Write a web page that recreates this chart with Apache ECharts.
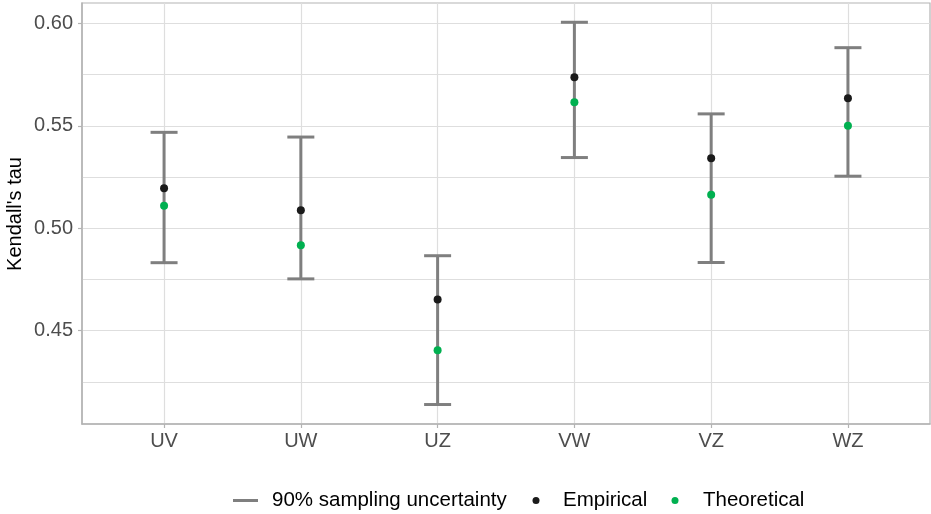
<!DOCTYPE html>
<html>
<head>
<meta charset="utf-8">
<script src="https://cdn.jsdelivr.net/npm/echarts@6/dist/echarts.min.js"></script>
<style>
  html, body { margin: 0; padding: 0; background: #fff; }
  #chart { width: 931px; height: 514px; }
</style>
</head>
<body>
<div id="chart"></div>
<script>
// Pairwise dependence: Kendall's tau per variable pair
const pairs = ['UV', 'UW', 'UZ', 'VW', 'VZ', 'WZ'];
const empirical = [0.5195, 0.5088, 0.4652, 0.5737, 0.5342, 0.5634];
const theoretical = [0.5110, 0.4917, 0.4405, 0.5615, 0.5164, 0.5500];
const lower90 = [0.4832, 0.4753, 0.4140, 0.5345, 0.4833, 0.5254];
const upper90 = [0.5468, 0.5445, 0.4866, 0.6005, 0.5558, 0.5881];
const yTicks = [0.45, 0.50, 0.55, 0.60];
const yMinorTicks = [0.425, 0.475, 0.525, 0.575];
const yTitle = "Kendall's tau";

const FONT = 'Liberation Sans, Arial, sans-serif';
const GRID_COLOR = '#DEDEDE';
const FRAME_COLOR = '#B3B3B3';
const BAR_COLOR = '#7F7F7F';
const EMP_COLOR = '#1A1A1A';
const THEO_COLOR = '#00B050';

const xIdx = pairs.map((_, i) => i);
const yMin = 0.4045, yMax = 0.6099;

const chart = echarts.init(document.getElementById('chart'), null, { renderer: 'canvas' });

// vertical interval with horizontal caps at both ends
function errorBar(params, api) {
  const x = api.value(0);
  const lo = api.coord([x, api.value(1)]);
  const hi = api.coord([x, api.value(2)]);
  const half = 13.5;
  const style = { stroke: BAR_COLOR, lineWidth: 3 };
  return {
    type: 'group',
    children: [
      { type: 'line', shape: { x1: lo[0], y1: lo[1], x2: hi[0], y2: hi[1] }, style },
      { type: 'line', shape: { x1: hi[0] - half, y1: hi[1], x2: hi[0] + half, y2: hi[1] }, style },
      { type: 'line', shape: { x1: lo[0] - half, y1: lo[1], x2: lo[0] + half, y2: lo[1] }, style }
    ]
  };
}

const legendText = { fontFamily: FONT, fontSize: 20.5, lineHeight: 20, color: '#000' };
const legendCommon = { top: 490, itemWidth: 25, selectedMode: false, padding: 0 };

chart.setOption({
  animation: false,
  backgroundColor: '#fff',
  textStyle: { fontFamily: FONT },
  grid: {
    left: 82, right: 1, top: 3, bottom: 90,
    outerBoundsMode: 'none', containLabel: false,
    show: true, borderColor: FRAME_COLOR, borderWidth: 1.2, backgroundColor: 'transparent'
  },
  // y-axis title, centred on the plot panel
  graphic: [{
    type: 'text', x: 15.5, y: 214, rotation: Math.PI / 2, silent: true,
    style: { text: yTitle, fontSize: 20, fontFamily: FONT, fill: '#000', align: 'center', verticalAlign: 'middle' }
  }],
  xAxis: {
    type: 'value', min: -0.6, max: 5.6,
    axisLine: { show: true, onZero: false, lineStyle: { color: FRAME_COLOR, width: 1.5 } },
    axisTick: { show: true, length: 4, customValues: xIdx, lineStyle: { color: FRAME_COLOR, width: 1.2 } },
    axisLabel: {
      customValues: xIdx, margin: 7, fontSize: 20, color: '#4D4D4D', fontFamily: FONT,
      formatter: v => pairs[Math.round(v)]
    },
    splitLine: { show: true, lineStyle: { color: GRID_COLOR, width: 1.2 } }
  },
  yAxis: [
    {
      type: 'value', min: yMin, max: yMax,
      axisLine: { show: true, onZero: false, lineStyle: { color: FRAME_COLOR, width: 1.5 } },
      axisTick: { show: true, length: 4, customValues: yTicks, lineStyle: { color: FRAME_COLOR, width: 1.2 } },
      axisLabel: {
        customValues: yTicks, margin: 9, fontSize: 20, color: '#4D4D4D', fontFamily: FONT,
        formatter: v => v.toFixed(2)
      },
      splitLine: { show: true, lineStyle: { color: GRID_COLOR, width: 1.2 } }
    },
    {
      type: 'value', min: yMin, max: yMax, position: 'left',
      axisLine: { show: false },
      axisTick: { show: false, customValues: yMinorTicks },
      axisLabel: { show: false, customValues: yMinorTicks },
      splitLine: { show: true, lineStyle: { color: GRID_COLOR, width: 1 } }
    }
  ],
  legend: [
    Object.assign({
      data: [{ name: '90% sampling uncertainty', icon: 'rect', itemStyle: { color: BAR_COLOR, opacity: 1 } }],
      left: 233, itemHeight: 3,
      textStyle: Object.assign({ padding: [0, 0, 0, 9] }, legendText)
    }, legendCommon),
    Object.assign({
      data: [{ name: 'Empirical', icon: 'circle', itemStyle: { color: EMP_COLOR, opacity: 1 } }],
      left: 532.5, itemHeight: 7,
      textStyle: Object.assign({ padding: [0, 0, 0, 9.5] }, legendText)
    }, legendCommon),
    Object.assign({
      data: [{ name: 'Theoretical', icon: 'circle', itemStyle: { color: THEO_COLOR, opacity: 1 } }],
      left: 671.5, itemHeight: 7,
      textStyle: Object.assign({ padding: [0, 0, 0, 10.5] }, legendText)
    }, legendCommon)
  ],
  series: [
    {
      name: '90% sampling uncertainty',
      type: 'custom',
      renderItem: errorBar,
      itemStyle: { color: BAR_COLOR },
      encode: { x: 0, y: [1, 2] },
      data: xIdx.map(i => [i, lower90[i], upper90[i]]),
      z: 2
    },
    {
      name: 'Empirical',
      type: 'scatter',
      symbol: 'circle', symbolSize: 8,
      itemStyle: { color: EMP_COLOR, opacity: 1 },
      data: xIdx.map(i => [i, empirical[i]]),
      z: 3
    },
    {
      name: 'Theoretical',
      type: 'scatter',
      symbol: 'circle', symbolSize: 8,
      itemStyle: { color: THEO_COLOR, opacity: 1 },
      data: xIdx.map(i => [i, theoretical[i]]),
      z: 4
    }
  ]
});
</script>
</body>
</html>
